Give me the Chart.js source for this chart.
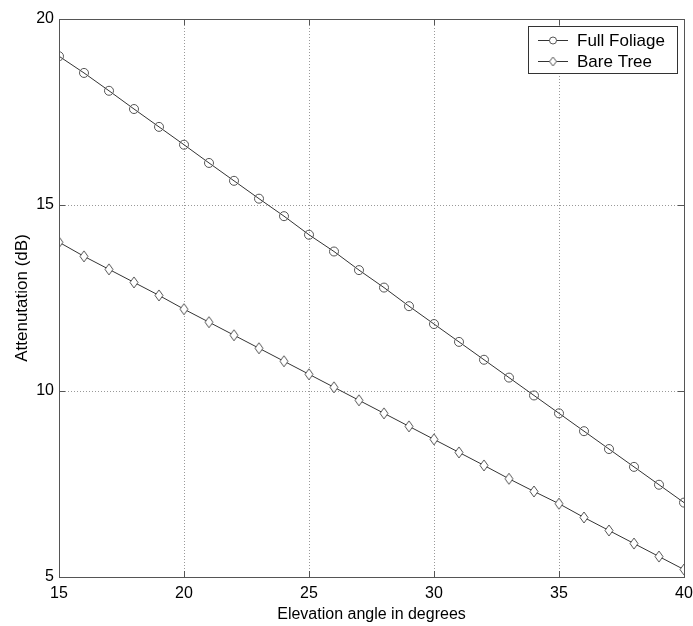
<!DOCTYPE html>
<html>
<head>
<meta charset="utf-8">
<script src="https://cdn.jsdelivr.net/npm/chart.js@4/dist/chart.umd.min.js"></script>
<style>
  html, body { margin: 0; padding: 0; background: #fff; }
  #wrap { width: 693px; height: 626px; }
</style>
</head>
<body>
<div id="wrap"><canvas id="attnChart"></canvas></div>
<script>
const elevation = [15, 16, 17, 18, 19, 20, 21, 22, 23, 24, 25, 26, 27, 28, 29, 30, 31, 32, 33, 34, 35, 36, 37, 38, 39, 40];
const fullFoliage = [19.0, 18.55, 18.07, 17.58, 17.1, 16.62, 16.13, 15.65, 15.17, 14.7, 14.2, 13.75, 13.25, 12.78, 12.28, 11.8, 11.32, 10.84, 10.36, 9.88, 9.4, 8.92, 8.44, 7.96, 7.48, 7.0];
const bareTree = [14.0, 13.62, 13.27, 12.92, 12.57, 12.2, 11.85, 11.5, 11.15, 10.8, 10.45, 10.1, 9.75, 9.4, 9.05, 8.7, 8.35, 8.0, 7.64, 7.3, 6.97, 6.6, 6.25, 5.9, 5.55, 5.2];
const seriesNames = ['Full Foliage', 'Bare Tree'];
const xTicks = [15, 20, 25, 30, 35, 40];
const yTicks = [5, 10, 15, 20];

const FONT = 'Arial, "Liberation Sans", sans-serif';
const INK = '#333';

// tall hollow diamond, like the matlab 'd' marker
function diamondMarker(w, h) {
  const c = document.createElement('canvas');
  c.width = w + 2; c.height = h + 2;
  const g = c.getContext('2d');
  g.strokeStyle = '#555';
  g.lineWidth = 1;
  g.beginPath();
  g.moveTo(1 + w / 2, 1); g.lineTo(1 + w, 1 + h / 2); g.lineTo(1 + w / 2, 1 + h); g.lineTo(1, 1 + h / 2); g.closePath();
  g.fillStyle = '#fff';
  g.fill();
  g.stroke();
  return c;
}
const diamond = diamondMarker(8, 11);
const smallDiamond = diamondMarker(7, 9);

const toPoints = (ys) => ys.map((y, i) => ({ x: elevation[i], y: y }));

// box round the plot and matlab style inward ticks
const frame = {
  id: 'frame',
  afterDatasetsDraw(chart) {
    const { ctx, chartArea: a, scales: { x, y } } = chart;
    ctx.save();
    ctx.strokeStyle = '#555';
    ctx.lineWidth = 1;
    ctx.strokeRect(Math.round(a.left) + 0.5, Math.round(a.top) + 0.5, Math.round(a.right - a.left), Math.round(a.bottom - a.top));
    ctx.beginPath();
    xTicks.forEach(v => {
      const px = Math.round(x.getPixelForValue(v)) + 0.5;
      ctx.moveTo(px, a.bottom); ctx.lineTo(px, a.bottom - 6);
      ctx.moveTo(px, a.top); ctx.lineTo(px, a.top + 6);
    });
    yTicks.forEach(v => {
      const py = Math.round(y.getPixelForValue(v)) + 0.5;
      ctx.moveTo(a.left, py); ctx.lineTo(a.left + 6, py);
      ctx.moveTo(a.right, py); ctx.lineTo(a.right - 6, py);
    });
    ctx.stroke();
    ctx.restore();
  }
};

// legend box in the top right corner
const legendBox = {
  id: 'legendBox',
  afterDraw(chart) {
    const { ctx, chartArea: a } = chart;
    const w = 149, h = 47;
    const left = Math.round(a.right) - 156, top = Math.round(a.top) + 7;
    ctx.save();
    ctx.fillStyle = '#fff';
    ctx.fillRect(left, top, w, h);
    ctx.strokeStyle = '#333';
    ctx.lineWidth = 1;
    ctx.strokeRect(left + 0.5, top + 0.5, w, h);
    ctx.font = '17px ' + FONT;
    ctx.textBaseline = 'middle';
    chart.data.datasets.forEach((ds, i) => {
      const cy = top + 14.5 + i * 21;
      ctx.strokeStyle = INK;
      ctx.beginPath();
      ctx.moveTo(left + 10, cy); ctx.lineTo(left + 40, cy);
      ctx.stroke();
      if (i === 0) {
        ctx.strokeStyle = '#555';
        ctx.fillStyle = '#fff';
        ctx.beginPath();
        ctx.arc(left + 25, cy, 3.5, 0, Math.PI * 2);
        ctx.fill();
        ctx.stroke();
      } else {
        ctx.drawImage(smallDiamond, left + 25 - 4.5, cy - 5.5);
      }
      ctx.fillStyle = '#000';
      ctx.fillText(ds.label, left + 49, cy + 1);
    });
    ctx.restore();
  }
};

new Chart(document.getElementById('attnChart'), {
  type: 'line',
  data: {
    datasets: [
      {
        label: seriesNames[0],
        data: toPoints(fullFoliage),
        borderColor: INK,
        borderWidth: 1,
        pointStyle: 'circle',
        pointRadius: 4.5,
        pointBorderColor: '#555',
        pointBackgroundColor: 'rgba(255,255,255,0)',
        pointBorderWidth: 1,
        fill: false,
        tension: 0
      },
      {
        label: seriesNames[1],
        data: toPoints(bareTree),
        borderColor: INK,
        borderWidth: 1,
        pointStyle: diamond,
        pointRadius: 5,
        fill: false,
        tension: 0
      }
    ]
  },
  options: {
    responsive: true,
    maintainAspectRatio: false,
    animation: false,
    layout: { padding: { left: 0, right: 9, top: 19, bottom: 2 } },
    plugins: {
      legend: { display: false },
      tooltip: { enabled: false }
    },
    scales: {
      x: {
        type: 'linear',
        min: 15,
        max: 40,
        afterBuildTicks: (s) => { s.ticks = xTicks.map(v => ({ value: v })); },
        afterFit: (s) => { s.height = 47; s.paddingLeft = 0; s.paddingRight = 0; },
        grid: { color: '#999', lineWidth: 1, drawTicks: false },
        border: { display: false, dash: [1, 2] },
        ticks: { color: '#000', font: { family: FONT, size: 16 }, padding: 7, maxRotation: 0 },
        title: { display: true, text: 'Elevation angle in degrees', color: '#000', font: { family: FONT, size: 16 }, padding: { top: 0, bottom: 0 } }
      },
      y: {
        type: 'linear',
        min: 5,
        max: 20,
        afterBuildTicks: (s) => { s.ticks = yTicks.map(v => ({ value: v })); },
        afterFit: (s) => { s.width = 59; s.paddingTop = 0; s.paddingBottom = 0; },
        grid: { color: '#999', lineWidth: 1, drawTicks: false },
        border: { display: false, dash: [1, 2] },
        ticks: { color: '#000', font: { family: FONT, size: 16 }, padding: 5 },
        title: { display: true, text: 'Attenutation (dB)', color: '#000', font: { family: FONT, size: 17 }, padding: { top: 12, bottom: 0 } }
      }
    }
  },
  plugins: [frame, legendBox]
});
</script>
</body>
</html>
